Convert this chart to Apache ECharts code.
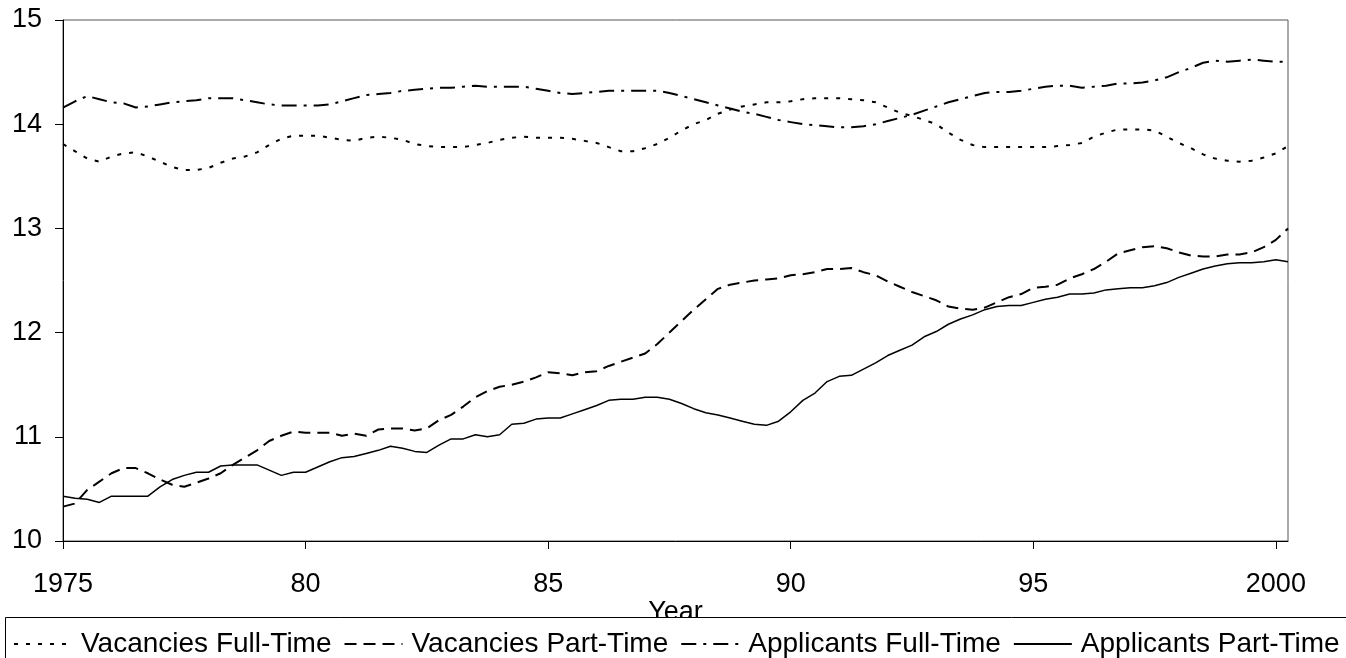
<!DOCTYPE html>
<html>
<head>
<meta charset="utf-8">
<script src="https://cdn.jsdelivr.net/npm/echarts@6/dist/echarts.min.js"></script>
<style>
  html, body { margin: 0; padding: 0; background: #fff; }
  #chartLine { width: 1346px; height: 658px; }
</style>
</head>
<body>
<div id="chartLine"></div>
<script>
// quarterly observations, 1975Q1 .. 2000Q2
const tickLabels = ['1975', '80', '85', '90', '95', '2000'];
const seriesNames = ['Vacancies Full-Time', 'Vacancies Part-Time', 'Applicants Full-Time', 'Applicants Part-Time'];

const vacFull = [
  13.81, 13.74, 13.67, 13.64, 13.69, 13.72, 13.73, 13.69, 13.64, 13.59,
  13.56, 13.56, 13.58, 13.63, 13.67, 13.69, 13.73, 13.80, 13.86, 13.89,
  13.89, 13.89, 13.87, 13.85, 13.84, 13.87, 13.88, 13.87, 13.85, 13.81,
  13.79, 13.78, 13.78, 13.78, 13.80, 13.82, 13.85, 13.87, 13.88, 13.87,
  13.87, 13.87, 13.86, 13.84, 13.82, 13.78, 13.74, 13.74, 13.77, 13.81,
  13.87, 13.94, 14.00, 14.04, 14.10, 14.14, 14.17, 14.19, 14.21, 14.21,
  14.22, 14.24, 14.25, 14.25, 14.25, 14.24, 14.23, 14.21, 14.16, 14.11,
  14.08, 14.04, 14.00, 13.92, 13.85, 13.80, 13.78, 13.78, 13.78, 13.78,
  13.78, 13.78, 13.79, 13.80, 13.82, 13.88, 13.92, 13.95, 13.95, 13.95,
  13.94, 13.88, 13.82, 13.77, 13.71, 13.67, 13.65, 13.64, 13.65, 13.68,
  13.72, 13.79
];
const vacPart = [
  10.33, 10.36, 10.49, 10.57, 10.65, 10.70, 10.70, 10.65, 10.59, 10.54,
  10.52, 10.56, 10.60, 10.65, 10.73, 10.80, 10.87, 10.96, 11.01, 11.05,
  11.04, 11.04, 11.04, 11.01, 11.03, 11.01, 11.07, 11.08, 11.08, 11.06,
  11.08, 11.16, 11.21, 11.29, 11.38, 11.44, 11.48, 11.50, 11.53, 11.57,
  11.62, 11.61, 11.59, 11.62, 11.63, 11.68, 11.72, 11.76, 11.80, 11.89,
  12.00, 12.11, 12.22, 12.32, 12.42, 12.46, 12.48, 12.50, 12.51, 12.52,
  12.55, 12.56, 12.58, 12.61, 12.61, 12.62, 12.58, 12.55, 12.49, 12.44,
  12.39, 12.35, 12.31, 12.25, 12.23, 12.22, 12.24, 12.29, 12.34, 12.37,
  12.43, 12.44, 12.46, 12.52, 12.56, 12.61, 12.68, 12.76, 12.79, 12.82,
  12.83, 12.81, 12.77, 12.74, 12.73, 12.73, 12.75, 12.75, 12.77, 12.82,
  12.89, 13.00
];
const appFull = [
  14.16, 14.22, 14.27, 14.24, 14.21, 14.20, 14.16, 14.17, 14.19, 14.21,
  14.22, 14.23, 14.25, 14.25, 14.25, 14.23, 14.21, 14.19, 14.18, 14.18,
  14.18, 14.18, 14.19, 14.22, 14.25, 14.28, 14.29, 14.30, 14.32, 14.33,
  14.34, 14.35, 14.35, 14.36, 14.37, 14.36, 14.36, 14.36, 14.36, 14.34,
  14.32, 14.30, 14.29, 14.30, 14.31, 14.32, 14.32, 14.32, 14.32, 14.32,
  14.30, 14.27, 14.24, 14.21, 14.18, 14.15, 14.12, 14.10, 14.07, 14.04,
  14.02, 14.00, 13.99, 13.98, 13.97, 13.97, 13.98, 14.00, 14.03, 14.06,
  14.09, 14.13, 14.17, 14.21, 14.24, 14.27, 14.30, 14.31, 14.31, 14.32,
  14.34, 14.36, 14.37, 14.37, 14.35, 14.36, 14.37, 14.39, 14.39, 14.40,
  14.42, 14.45, 14.50, 14.54, 14.59, 14.61, 14.60, 14.61, 14.62, 14.61,
  14.60, 14.60
];
const appPart = [
  10.43, 10.41, 10.40, 10.37, 10.43, 10.43, 10.43, 10.43, 10.52, 10.59,
  10.63, 10.66, 10.66, 10.72, 10.73, 10.73, 10.73, 10.68, 10.63, 10.66,
  10.66, 10.71, 10.76, 10.80, 10.81, 10.84, 10.87, 10.91, 10.89, 10.86,
  10.85, 10.92, 10.98, 10.98, 11.02, 11.00, 11.02, 11.12, 11.13, 11.17,
  11.18, 11.18, 11.22, 11.26, 11.30, 11.35, 11.36, 11.36, 11.38, 11.38,
  11.36, 11.32, 11.27, 11.23, 11.21, 11.18, 11.15, 11.12, 11.11, 11.15,
  11.24, 11.35, 11.42, 11.53, 11.58, 11.59, 11.65, 11.71, 11.78, 11.83,
  11.88, 11.96, 12.01, 12.08, 12.13, 12.17, 12.22, 12.25, 12.26, 12.26,
  12.29, 12.32, 12.34, 12.37, 12.37, 12.38, 12.41, 12.42, 12.43, 12.43,
  12.45, 12.48, 12.53, 12.57, 12.61, 12.64, 12.66, 12.67, 12.67, 12.68,
  12.70, 12.68
];

// category labels: one per quarter
let quarters = [];
for (let y = 1975; quarters.length < vacFull.length; y++) {
  for (let q = 1; q <= 4 && quarters.length < vacFull.length; q++) {
    quarters.push(y + 'Q' + q);
  }
}

const fontName = 'Liberation Sans, Arial, sans-serif';
const everyFiveYears = function (idx) { return idx % 20 === 0; };

function lineSeries(name, data, dash, width) {
  return {
    name: name,
    type: 'line',
    data: data,
    symbol: 'none',
    animation: false,
    lineStyle: { color: '#000', width: width, type: dash, cap: 'butt' },
    itemStyle: { color: '#000' }
  };
}

const chartLine = echarts.init(document.getElementById('chartLine'));
chartLine.setOption({
  backgroundColor: '#fff',
  animation: false,
  grid: {
    left: 63, right: 58, top: 20, bottom: 117,
    show: true, borderColor: '#555', borderWidth: 1
  },
  // legend frame, also hides the lower part of the axis title
  graphic: [{
    type: 'rect',
    z: 10,
    shape: { x: 5.5, y: 617.5, width: 1400, height: 80 },
    style: { fill: '#fff', stroke: '#000', lineWidth: 1 }
  }],
  legend: {
    z: 20,
    left: 8,
    top: 625,
    itemWidth: 58,
    itemHeight: 14,
    itemGap: 12,
    data: seriesNames,
    itemStyle: { opacity: 0 },
    textStyle: { fontFamily: fontName, fontSize: 28, color: '#000', padding: [0, 0, 0, 4] }
  },
  xAxis: {
    type: 'category',
    data: quarters,
    boundaryGap: false,
    name: 'Year',
    nameLocation: 'middle',
    nameGap: 58,
    nameMoveOverlap: false,
    nameTextStyle: { fontFamily: fontName, fontSize: 27, color: '#000' },
    axisLine: { lineStyle: { color: '#000', width: 1 } },
    axisTick: { interval: everyFiveYears, length: 8, lineStyle: { color: '#000' } },
    axisLabel: {
      interval: everyFiveYears,
      margin: 30,
      fontFamily: fontName,
      fontSize: 27,
      color: '#000',
      formatter: function (val, idx) { return tickLabels[idx / 20]; }
    },
    splitLine: { show: false }
  },
  yAxis: {
    type: 'value',
    min: 10,
    max: 15,
    interval: 1,
    axisLine: { show: true, lineStyle: { color: '#000', width: 1 } },
    axisTick: { show: true, length: 8, lineStyle: { color: '#000' } },
    axisLabel: { margin: 21, fontFamily: fontName, fontSize: 27, color: '#000' },
    splitLine: { show: false }
  },
  series: [
    lineSeries(seriesNames[0], vacFull, [4, 8], 2),
    lineSeries(seriesNames[1], vacPart, [12, 7], 2),
    lineSeries(seriesNames[2], appFull, [15, 7, 3, 7], 2),
    lineSeries(seriesNames[3], appPart, 'solid', 1.5)
  ]
});
</script>
</body>
</html>
